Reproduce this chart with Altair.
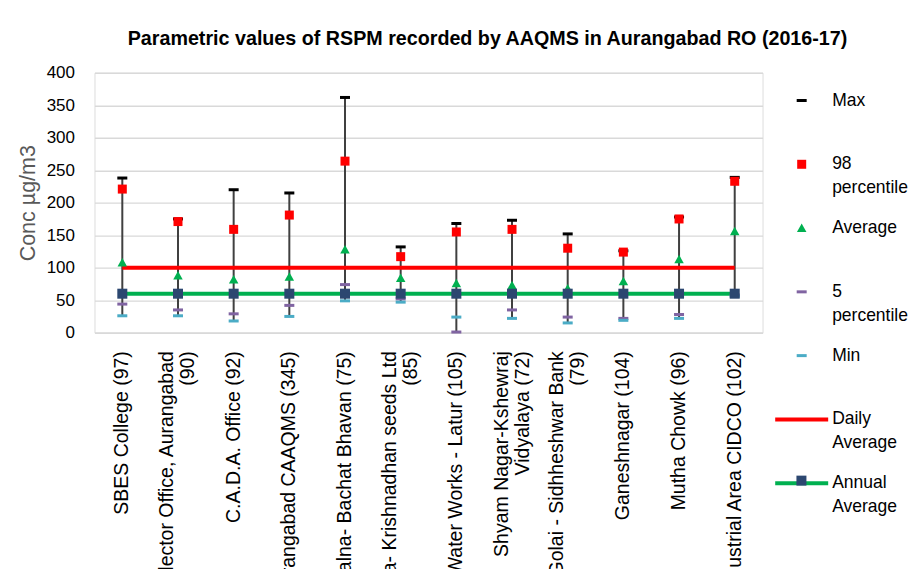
import altair as alt
import pandas as pd

stations = [
    "SBES College  (97)",
    "Collector Office, Aurangabad\n(90)",
    "C.A.D.A. Office  (92)",
    "Aurangabad CAAQMS  (345)",
    "Jalna- Bachat Bhavan  (75)",
    "Jalna- Krishnadhan seeds Ltd\n(85)",
    "MIDC Water Works - Latur  (105)",
    "Shyam Nagar-Kshewraj\nVidyalaya  (72)",
    "Ganj Golai - Sidhheshwar Bank\n(79)",
    "Ganeshnagar  (104)",
    "Mutha Chowk  (96)",
    "Industrial Area CIDCO  (102)",
]
max_v = [238, 175, 220, 215, 362, 132, 168, 173, 152, 126, 178, 239]
p98_v = [221, 171, 159, 181, 264, 117, 155, 159, 130, 124, 175, 233]
avg_v = [108, 88, 82, 86, 128, 84, 76, 73, 68, 79, 113, 156]
p5_v = [44, 35, 29, 42, 74, 52, 1, 35, 24, 22, 28, 58]
min_v = [26, 26, 18, 25, 49, 47, 24, 22, 15, 19, 22, 56]
daily_v = [100] * 12
annual_v = [60] * 12
y_ticks = [0, 50, 100, 150, 200, 250, 300, 350, 400]

series_names = ["Max", "98\npercentile", "Average", "5\npercentile", "Min",
                "Daily\nAverage", "Annual\nAverage"]
series_colors = ["#000000", "#FF0000", "#00B050", "#8064A2", "#4BACC6",
                 "#FF0000", "#00B050"]
DASH = "M-1,-0.3H1V0.3H-1Z"
SQ = "M-0.9,-0.9H0.9V0.9H-0.9Z"
TRI = "M0,-0.9L0.95,0.8L-0.95,0.8Z"
LINE = "M-5.3,-0.4H5.3V0.4H-5.3Z"
series_shapes = [DASH, SQ, TRI, DASH, DASH, LINE, LINE]

FONT = "Liberation Sans, Arial, sans-serif"

wide = pd.DataFrame({
    "station": stations,
    "hi": [max(v) for v in zip(max_v, p98_v, avg_v, p5_v, min_v, annual_v)],
    "lo": [min(v) for v in zip(max_v, p98_v, avg_v, p5_v, min_v, annual_v)],
    "daily": daily_v,
    "annual": annual_v,
    "akey": ["Annual\nAverage"] * 12,
})

rows = []
for name, vals in zip(series_names[:5], [max_v, p98_v, avg_v, p5_v, min_v]):
    for s, v in zip(stations, vals):
        rows.append({"station": s, "series": name, "value": v})
long = pd.DataFrame(rows)

xaxis = alt.Axis(
    title=None,
    labelAngle=270,
    labelAlign="right",
    labelBaseline="middle",
    labelPadding=18,
    labelFont=FONT,
    labelFontSize=19.5,
    labelColor="#000000",
    labelLineHeight=21,
    labelLimit=0,
    labelExpr="split(datum.label, '\\n')",
    labelOffset={"condition": {"test": "indexof(datum.value, '\\n') >= 0", "value": -10.5},
                 "value": 0},
    ticks=False,
    domainColor="#D9D9D9",
    domainWidth=1.3,
    grid=False,
)
xscale = alt.Scale(domain=stations, paddingInner=0, paddingOuter=0)

yscale = alt.Scale(domain=[0, 400], nice=False)
yaxis = alt.Axis(
    title="Conc µg/m3",
    titleFont=FONT,
    titleFontSize=21.5,
    titleFontWeight="normal",
    titleColor="#595959",
    titleX=-66,
    titleY=130,
    titleAngle=270,
    titleAlign="center",
    titleBaseline="middle",
    values=y_ticks,
    labelOverlap=False,
    labelFont=FONT,
    labelFontSize=17,
    labelColor="#000000",
    labelPadding=20,
    ticks=False,
    domain=False,
    gridColor="#D9D9D9",
    gridWidth=1.3,
)


def X():
    return alt.X("station:N", scale=xscale, axis=xaxis)


def Y(field):
    return alt.Y(field, type="quantitative", scale=yscale, axis=yaxis)


base = alt.Chart(wide)

hilo = base.mark_rule(color="#404040", strokeWidth=2).encode(
    x=X(), y=Y("lo"), y2="hi:Q",
)

daily = base.mark_line(color="#FF0000", strokeWidth=4).encode(x=X(), y=Y("daily"))

annual_line = base.mark_line(color="#00B050", strokeWidth=4).encode(x=X(), y=Y("annual"))

points = alt.Chart(long).mark_point(filled=True, size=100, opacity=1, strokeWidth=0).encode(
    x=X(),
    y=Y("value"),
    color=alt.Color(
        "series:N",
        scale=alt.Scale(domain=series_names, range=series_colors),
        legend=alt.Legend(
            title=None,
            orient="none",
            legendX=698.7,
            legendY=19,
            labelFont=FONT,
            labelFontSize=17.5,
            labelColor="#000000",
            labelOffset=21.7,
            labelLimit=0,
            labelBaseline="middle",
            labelExpr="split(datum.label, '\\n')",
            symbolSize=100,
            symbolStrokeWidth=0,
            symbolOpacity=1,
            rowPadding=20.8,
            gridAlign="all",
            padding=0,
        ),
    ),
    shape=alt.Shape(
        "series:N",
        scale=alt.Scale(domain=series_names, range=series_shapes),
    ),
)

annual_pts = base.mark_point(filled=True, size=100, shape="square", opacity=1, strokeWidth=0).encode(
    x=X(),
    y=Y("annual"),
    fill=alt.Fill(
        "akey:N",
        scale=alt.Scale(domain=["Annual\nAverage"], range=["#2C4770"]),
        legend=alt.Legend(
            title=None,
            orient="none",
            legendX=702.2,
            legendY=403,
            labelExpr="''",
            symbolType="square",
            symbolSize=100,
            symbolStrokeWidth=0,
            symbolOpacity=1,
            padding=0,
        ),
    ),
)

chart = alt.layer(hilo, daily, annual_line, points, annual_pts).properties(
    width=668.3,
    height=260,
    autosize=alt.AutoSizeParams(type="none"),
    padding={"left": 86.5, "top": 64.7, "right": 149.5, "bottom": 236},
    title=alt.Title(
        "Parametric values of RSPM recorded by AAQMS in Aurangabad RO (2016-17)",
        font=FONT,
        fontSize=19.7,
        fontWeight="bold",
        color="#000000",
        anchor="middle",
        frame="group",
        dx=59,
        dy=34,
        offset=32.7,
        baseline="alphabetic",
    ),
).configure_view(stroke=None).configure(
    background="#FFFFFF",
    style={"guide-label": {"lineHeight": 24}},
)

chart.save("out.html", embed_options={"renderer": "svg", "actions": False})
